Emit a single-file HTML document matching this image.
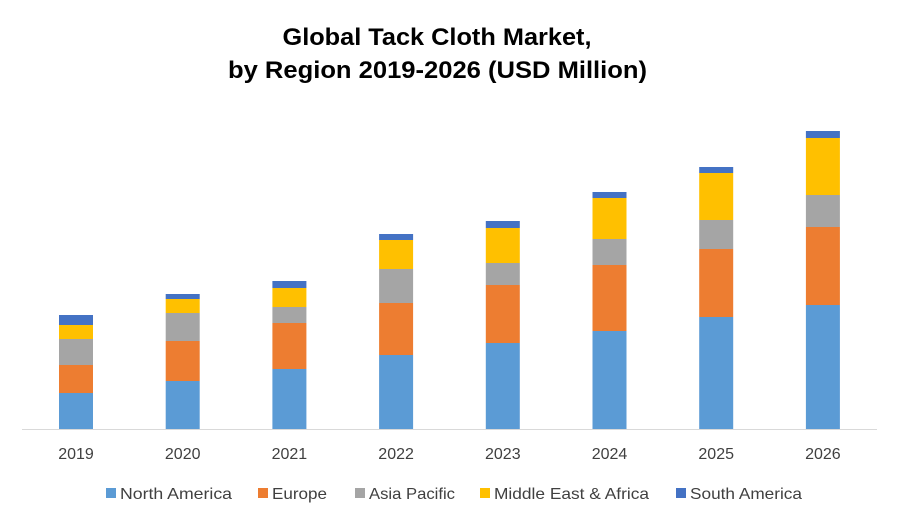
<!DOCTYPE html>
<html><head><meta charset="utf-8">
<style>
body{margin:0;background:#fff;}
svg{display:block;font-family:"Liberation Sans",sans-serif;}
</style></head>
<body>
<svg id="chart" width="900" height="525">
<text x="437" y="45" text-anchor="middle" font-size="24" font-weight="bold" fill="#000" textLength="309" lengthAdjust="spacingAndGlyphs">Global Tack Cloth Market,</text>
<text x="437.5" y="78" text-anchor="middle" font-size="24" font-weight="bold" fill="#000" textLength="419" lengthAdjust="spacingAndGlyphs">by Region 2019-2026 (USD Million)</text>
<line x1="22" y1="429.5" x2="877" y2="429.5" stroke="#d9d9d9" stroke-width="1"/>
<g id="bars"></g>
<g id="xlabels"></g>
<g id="legend"></g>
</svg>
<script>
const categories = ["2019","2020","2021","2022","2023","2024","2025","2026"];
const seriesNames = ["North America","Europe","Asia Pacific","Middle East & Africa","South America"];
const northAmerica = [36,48,60,74,86,98,112,124];
const europe = [28,40,46,52,58,66,68,78];
const asiaPacific = [26,28,16,34,22,26,29,32];
const middleEastAfrica = [14,14,19,29,35,41,47,57];
const southAmerica = [10,5,7,6,7,6,6,7];

const series = [northAmerica, europe, asiaPacific, middleEastAfrica, southAmerica];
const colors = ["#5b9bd5","#ed7d31","#a5a5a5","#ffc000","#4472c4"];
const NS = "http://www.w3.org/2000/svg";
const baseY = 429, unit = 1, x0 = 76, step = 106.7, bw = 34;
function xScale(i){ return x0 + i*step; }
function yScale(v){ return baseY - v*unit; }

const bars = document.getElementById('bars');
categories.forEach((c,i)=>{
  let acc = 0;
  series.forEach((s,k)=>{
    const r = document.createElementNS(NS,'rect');
    const top = yScale(acc + s[i]);
    r.setAttribute('x', xScale(i)-bw/2);
    r.setAttribute('y', top);
    r.setAttribute('width', bw);
    r.setAttribute('height', yScale(acc) - top);
    r.setAttribute('fill', colors[k]);
    
    
    bars.appendChild(r);
    acc += s[i];
  });
  const t = document.createElementNS(NS,'text');
  t.setAttribute('x', xScale(i));
  t.setAttribute('y', 459);
  t.setAttribute('text-anchor','middle');
  t.setAttribute('font-size','16');
  t.setAttribute('fill','#404040');
  t.textContent = c;
  
  
  document.getElementById('xlabels').appendChild(t);
});

const legend = document.getElementById('legend');
const lx = [106, 258, 355, 480, 676];
const lw = [112, 55, 86, 155, 112];
seriesNames.forEach((n,k)=>{
  const g = document.createElementNS(NS,'g');
  
  
  const r = document.createElementNS(NS,'rect');
  r.setAttribute('x', lx[k]); r.setAttribute('y', 488);
  r.setAttribute('width', 10); r.setAttribute('height', 10);
  r.setAttribute('fill', colors[k]);
  g.appendChild(r);
  const t = document.createElementNS(NS,'text');
  t.setAttribute('x', lx[k]+14); t.setAttribute('y', 499);
  t.setAttribute('font-size','16'); t.setAttribute('fill','#404040');
  t.setAttribute('textLength', lw[k]);
  t.setAttribute('lengthAdjust','spacingAndGlyphs');
  t.textContent = n;
  g.appendChild(t);
  legend.appendChild(g);
});
</script>
</body></html>
